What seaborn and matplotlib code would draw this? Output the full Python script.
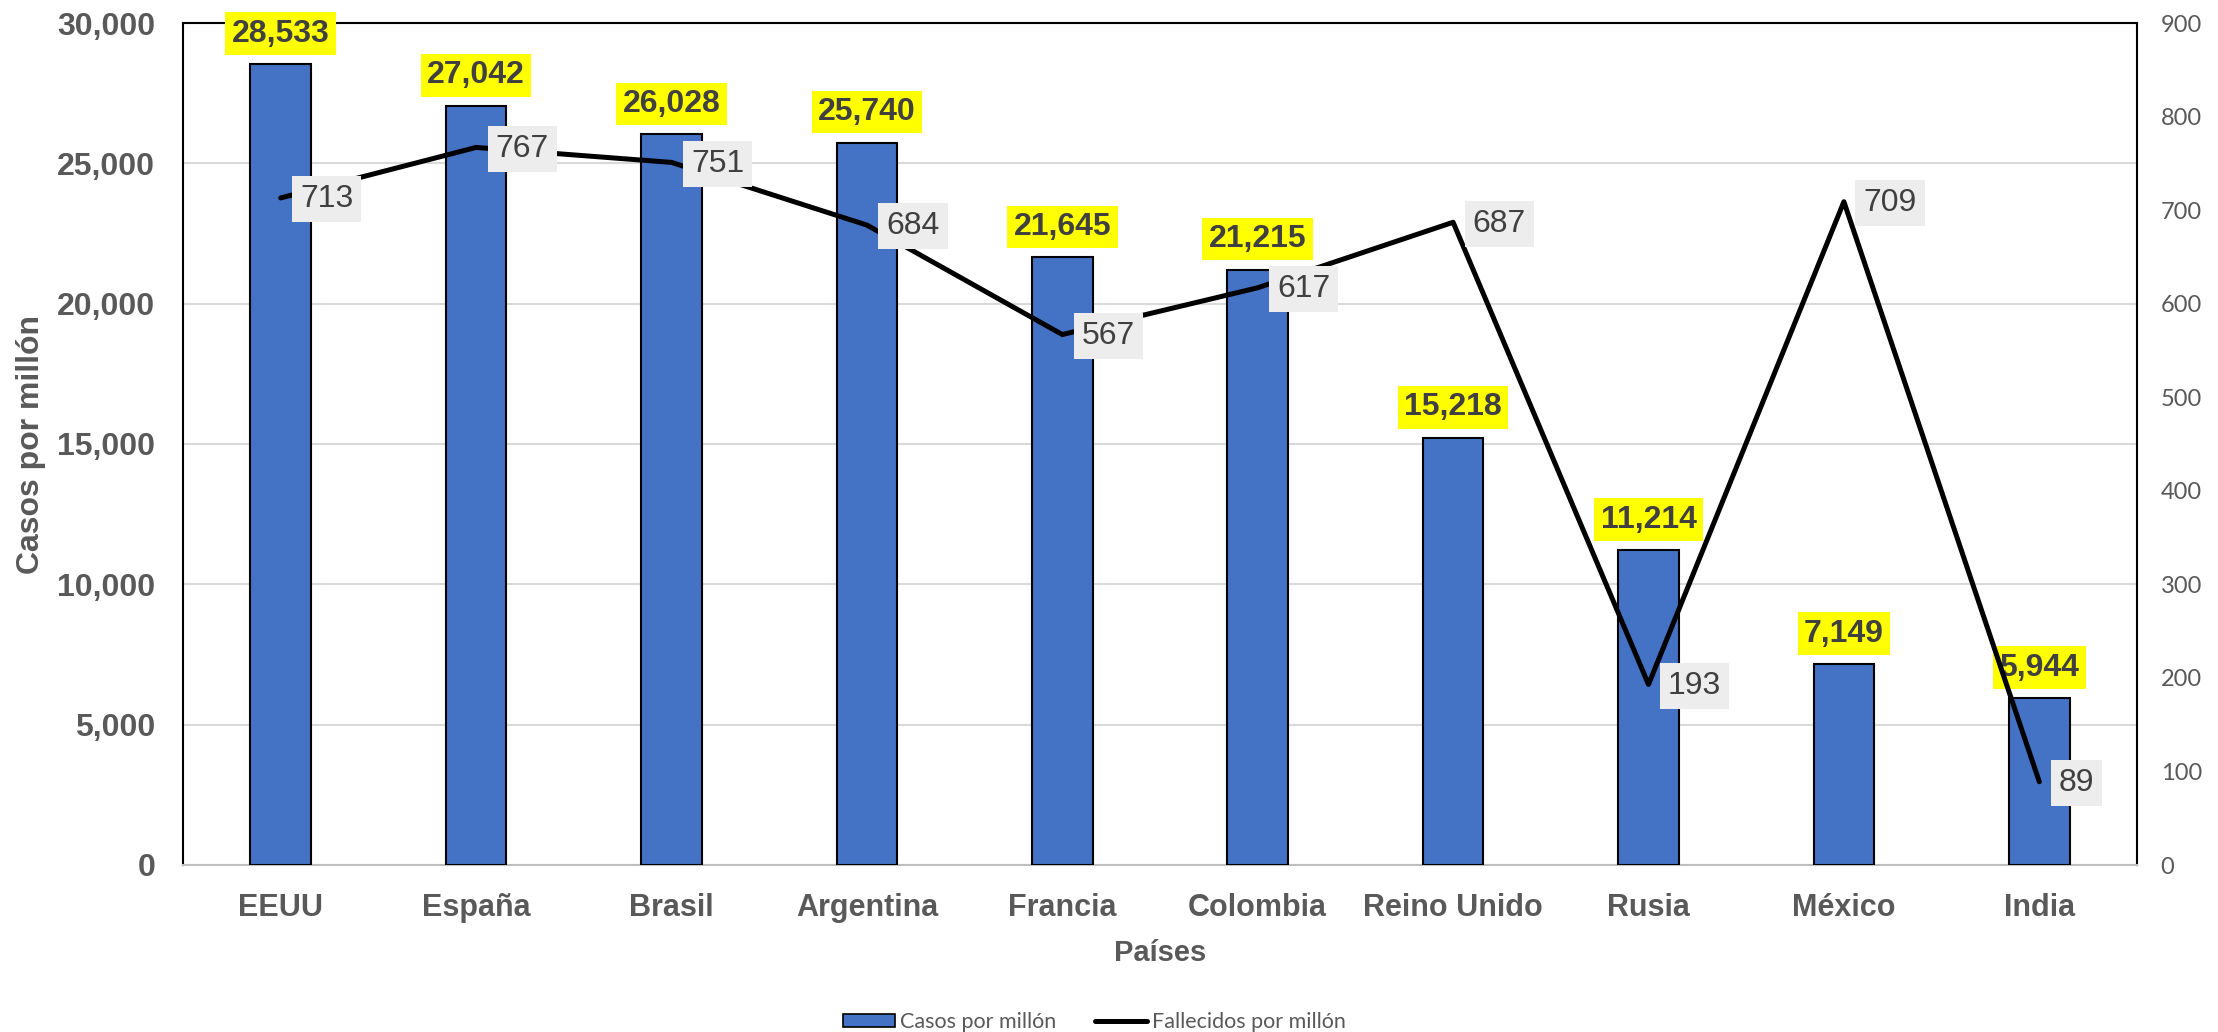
import matplotlib
matplotlib.use('Agg')
import matplotlib.pyplot as plt
import seaborn as sns
import pandas as pd
import numpy as np
from matplotlib.patches import Patch
from matplotlib.lines import Line2D

# datos
paises = ['EEUU', 'España', 'Brasil', 'Argentina', 'Francia', 'Colombia',
          'Reino Unido', 'Rusia', 'México', 'India']
casos = [28533, 27042, 26028, 25740, 21645, 21215, 15218, 11214, 7149, 5944]
fallecidos = [713, 767, 751, 684, 567, 617, 687, 193, 709, 89]

df = pd.DataFrame({'País': paises, 'Casos': casos, 'Fallecidos': fallecidos,
                   'pos': np.arange(len(paises))})

sns.set_style('white')
plt.rcParams['font.family'] = ['Liberation Sans', 'DejaVu Sans']

gray = '#595959'
dark = '#404040'

fig, ax = plt.subplots(figsize=(22.18, 10.32), dpi=100)
fig.subplots_adjust(left=183/2218, right=2137/2218, top=1-23/1032, bottom=1-865/1032)

sns.barplot(data=df, x='País', y='Casos', color='#4472C4', saturation=1,
            width=0.31, edgecolor='black', linewidth=1.5, ax=ax, zorder=3)
ax.set_ylim(0, 30000)
ax.set_xlim(-0.5, len(paises) - 0.5)
ax.set_yticks(range(0, 30001, 5000))
ax.set_yticklabels([f'{v:,}' for v in range(0, 30001, 5000)],
                   fontsize=23, fontweight='bold', color=gray)
ax.tick_params(axis='y', length=0, pad=20)
ax.tick_params(axis='x', length=0, pad=20)
for lbl in ax.get_xticklabels():
    lbl.set_fontsize(22)
    lbl.set_fontweight('bold')
    lbl.set_color(gray)
ax.yaxis.grid(True, color='#D9D9D9', linewidth=1.5, zorder=0)
ax.set_axisbelow(True)
ax.set_xlabel('Países', fontsize=21, fontweight='bold', color=gray, labelpad=12)
ax.set_ylabel('Casos por millón', fontsize=23, fontweight='bold', color=gray, labelpad=8)
for side in ['left', 'top', 'right']:
    ax.spines[side].set_color('black')
    ax.spines[side].set_linewidth(1.5)
ax.spines['bottom'].set_color('#BFBFBF')
ax.spines['bottom'].set_linewidth(1.5)

for x, v in zip(df['pos'], casos):
    ax.annotate(f'{v:,}', (x, v), xytext=(0, 22), textcoords='offset points',
                ha='center', va='center', fontsize=23, fontweight='bold', color=dark,
                bbox=dict(boxstyle='square,pad=0.2', facecolor='#FFFF00', edgecolor='none'),
                zorder=6)

ax2 = ax.twinx()
sns.lineplot(data=df, x='pos', y='Fallecidos', color='black', linewidth=3.6,
             ax=ax2, zorder=4)
ax2.set_ylim(0, 900)
ax2.set_yticks(range(0, 901, 100))
ax2.set_yticklabels([str(v) for v in range(0, 901, 100)], fontsize=17,
                    color=gray, family=['Lato', 'DejaVu Sans'])
ax2.tick_params(axis='y', length=0, pad=17)
ax2.set_ylabel('')
ax2.set_xlabel('')
for s in ax2.spines.values():
    s.set_visible(False)

for x, v in zip(df['pos'], fallecidos):
    ax2.annotate(str(v), (x, v), xytext=(14, -1), textcoords='offset points',
                 ha='left', va='center', fontsize=23, color=dark,
                 bbox=dict(boxstyle='square,pad=0.25', facecolor='#EDEDED', edgecolor='none'),
                 zorder=6)

handles = [Patch(facecolor='#4472C4', edgecolor='black', linewidth=1.2, label='Casos por millón'),
           Line2D([0], [0], color='black', linewidth=3.6, label='Fallecidos por millón')]
fig.legend(handles=handles, loc='center left', bbox_to_anchor=(843/2218, 1 - 1022/1032), ncol=2,
           frameon=False, prop={'family': ['Lato', 'DejaVu Sans'], 'size': 15.5},
           labelcolor=gray, handlelength=2.4, handleheight=0.56, columnspacing=1.8,
           handletextpad=0.25, borderpad=0, borderaxespad=0)

fig.savefig('out.png', dpi=100)
